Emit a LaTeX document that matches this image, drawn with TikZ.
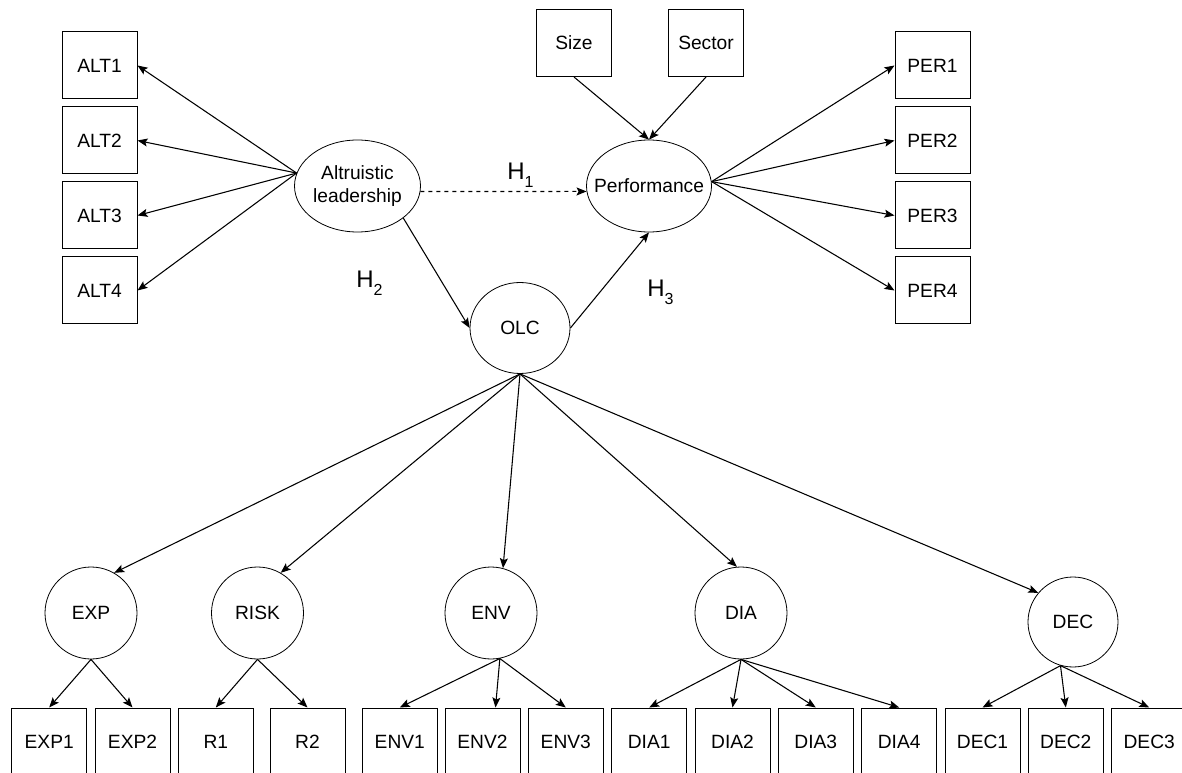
\documentclass[tikz,border=0pt]{standalone}
\usepackage{fontspec}
\setmainfont{Liberation Sans}
\usepackage{tikz}
\usetikzlibrary{shapes.geometric,arrows.meta,calc}

\newcommand{\Hyp}[1]{H\raisebox{-6pt}{\fontsize{12}{14}\selectfont #1}}

\begin{document}
\begin{tikzpicture}[x=0.75pt,y=0.75pt,yscale=-1,xscale=1,
  obs/.style={draw, line width=0.75pt, minimum width=56.25pt, minimum height=50.25pt, inner sep=0pt, font=\fontsize{14.4}{17}\selectfont},
  lv/.style={draw, ellipse, line width=0.6pt, inner sep=0pt, minimum height=69pt, font=\fontsize{14.4}{17.5}\selectfont},
  fac/.style={draw, circle, line width=0.6pt, minimum size=69pt, inner sep=0pt, font=\fontsize{14.4}{17}\selectfont},
  lnk/.style={line width=0.8pt, -{Stealth[length=7.5pt,width=6pt,inset=1.5pt]}},
  hyp/.style={font=\fontsize{18}{22}\selectfont, inner sep=0pt, anchor=base west}]
\useasboundingbox (0,0) rectangle (1182,773);

% Indicator boxes, left
\node[obs] (alt1) at (99.5,65.5) {ALT1};
\node[obs] (alt2) at (99.5,140.5) {ALT2};
\node[obs] (alt3) at (99.5,215.5) {ALT3};
\node[obs] (alt4) at (99.5,290.5) {ALT4};
% Indicator boxes, right
\node[obs] (per1) at (932.5,65.5) {PER1};
\node[obs] (per2) at (932.5,140.5) {PER2};
\node[obs] (per3) at (932.5,215.5) {PER3};
\node[obs] (per4) at (932.5,290.5) {PER4};
% Controls
\node[obs] (size) at (574,43) {Size};
\node[obs] (sector) at (706,43) {Sector};

% Latent variables
\node[lv, minimum width=94.5pt, align=center] (alt) at (357.5,186) {Altruistic\\leadership};
\node[lv, minimum width=93.75pt, label={[font=\fontsize{14.4}{17}\selectfont]center:Performance}] (perf) at (649,186) {};
\node[lv, minimum width=75pt, minimum height=68.25pt] (olc) at (520,328) {OLC};

% Dimensions of OLC
\node[fac] (exp) at (91,613) {EXP};
\node[fac] (risk) at (257.5,613) {RISK};
\node[fac] (env) at (491,613) {ENV};
\node[fac] (dia) at (741,613) {DIA};
\node[fac, minimum size=67.5pt] (dec) at (1073,622) {DEC};

% Indicator boxes, bottom
\node[obs] (exp1) at (49.2,741.5) {EXP1};
\node[obs] (exp2) at (132.5,741.5) {EXP2};
\node[obs] (r1) at (215.8,741.5) {R1};
\node[obs] (r2) at (307.5,741.5) {R2};
\node[obs] (env1) at (399.8,741.5) {ENV1};
\node[obs] (env2) at (482.5,741.5) {ENV2};
\node[obs] (env3) at (565.8,741.5) {ENV3};
\node[obs] (dia1) at (649.2,741.5) {DIA1};
\node[obs] (dia2) at (732.5,741.5) {DIA2};
\node[obs] (dia3) at (815.8,741.5) {DIA3};
\node[obs] (dia4) at (899.2,741.5) {DIA4};
\node[obs] (dec1) at (982.5,741.5) {DEC1};
\node[obs] (dec2) at (1065.8,741.5) {DEC2};
\node[obs] (dec3) at (1149.2,741.5) {DEC3};

% Hypotheses
\node[hyp] (h1) at (507,180) {\Hyp{1}};
\node[hyp] (h2) at (356,288) {\Hyp{2}};
\node[hyp] (h3) at (647,297) {\Hyp{3}};

% Loadings
\draw[lnk] (alt.168) -- (alt1.east);
\draw[lnk] (alt.168) -- (alt2.east);
\draw[lnk] (alt.168) -- (alt3.east);
\draw[lnk] (alt.168) -- (alt4.east);
\draw[lnk] (perf.4) -- (per1.west);
\draw[lnk] (perf.4) -- (per2.west);
\draw[lnk] (perf.4) -- (per3.west);
\draw[lnk] (perf.4) -- (per4.west);

% Structural paths
\draw[lnk, dashed] (alt.-5) -- (perf.185);
\draw[lnk] (alt.-35) -- (olc.west);
\draw[lnk] (olc.east) -- (perf.south);
\draw[lnk] (size.south) -- (perf.north);
\draw[lnk] (sector.south) -- (perf.north);

% OLC to its dimensions
\draw[lnk] (olc.south) -- (exp.60);
\draw[lnk] (olc.south) -- (risk.60);
\draw[lnk] (olc.south) -- (env.75);
\draw[lnk] (olc.south) -- (dia.95);
\draw[lnk] (olc.south) -- (dec.140);

% Dimensions to items
\draw[lnk] (exp.south) -- (exp1.north);
\draw[lnk] (exp.south) -- (exp2.north);
\draw[lnk] (risk.south) -- (r1.north);
\draw[lnk] (risk.south) -- (r2.north);
\draw[lnk] (env.-79) -- (env1.north);
\draw[lnk] (env.-79) -- ($(env2.north)+(13,0)$);
\draw[lnk] (env.-79) -- (env3.north);
\draw[lnk] (dia.south) -- (dia1.north);
\draw[lnk] (dia.south) -- (dia2.north);
\draw[lnk] (dia.south) -- (dia3.north);
\draw[lnk] (dia.south) -- (dia4.north);
\draw[lnk] (dec.-106) -- (dec1.north);
\draw[lnk] (dec.-106) -- (dec2.north);
\draw[lnk] (dec.-106) -- (dec3.north);

\end{tikzpicture}
\end{document}
